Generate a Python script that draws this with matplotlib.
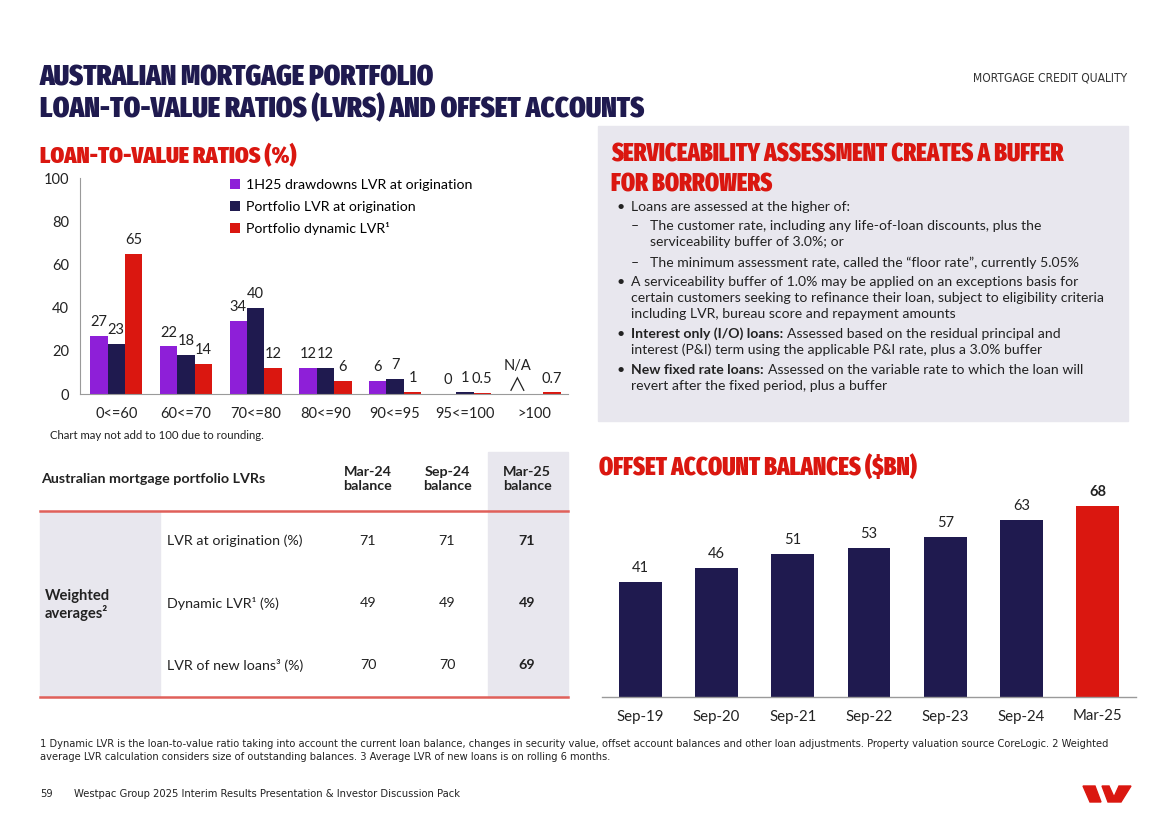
import numpy as np
import matplotlib
matplotlib.use('Agg')
import matplotlib.pyplot as plt
from matplotlib import font_manager
from matplotlib.font_manager import FontProperties
from matplotlib.patches import Rectangle, Polygon
from matplotlib.lines import Line2D

# ---- data -------------------------------------------------------------
lvr_bands = ['0<=60', '60<=70', '70<=80', '80<=90', '90<=95', '95<=100', '>100']
drawdowns_lvr = [27, 22, 34, 12, 6, 0, None]      # None = N/A
portfolio_lvr = [23, 18, 40, 12, 7, 1, None]
dynamic_lvr = [65, 14, 12, 6, 1, 0.5, 0.7]
lvr_series = ['1H25 drawdowns LVR at origination',
              'Portfolio LVR at origination',
              'Portfolio dynamic LVR¹']
lvr_yticks = [0, 20, 40, 60, 80, 100]

offset_dates = ['Sep-19', 'Sep-20', 'Sep-21', 'Sep-22', 'Sep-23', 'Sep-24', 'Mar-25']
offset_balances = [41, 46, 51, 53, 57, 63, 68]

table_cols = ['Mar-24\nbalance', 'Sep-24\nbalance', 'Mar-25\nbalance']
table_rows = ['LVR at origination (%)', 'Dynamic LVR¹ (%)', 'LVR of new loans³ (%)']
table_values = [[71, 71, 71],
                [49, 49, 49],
                [70, 70, 69]]

# ---- style ------------------------------------------------------------
W, H = 1168, 825
NAVY = '#1f1a4f'
PURPLE = '#8e1fd8'
RED = '#da1710'
GREY_BG = '#e8e7ee'
TXT = '#222222'
BODY = ['Lato', 'DejaVu Sans']
plt.rcParams['font.family'] = BODY


def find_face(patterns, fallback_weight):
    # first installed face whose file name matches one of the patterns
    files = [f.fname for f in font_manager.fontManager.ttflist]
    for p in patterns:
        for fn in files:
            base = fn.rsplit('/', 1)[-1].replace(' ', '').replace('-', '').lower()
            if p.lower() in base and 'italic' not in base:
                return FontProperties(fname=fn)
    return FontProperties(family='DejaVu Sans', weight=fallback_weight)


HEAD_B = find_face(['ExtraCondensedBlack', 'ExtraCondensedExtraBold', 'ExtraCondensedBold',
                    'CondensedBlack', 'CondensedExtraBold', 'CondensedBold',
                    'NarrowBold', 'SansCondensedBold'], 'bold')
HEAD_R = find_face(['SansCondensed.', 'SansCondensedRegular', 'CondensedRegular',
                    'NarrowRegular', 'Condensed.ttf'], 'normal')


def fx(x):
    return x / W


def fy(y):
    return 1 - y / H


def fmt(v):
    return str(int(v)) if float(v).is_integer() else str(v)


fig = plt.figure(figsize=(W / 100, H / 100), dpi=100)
renderer = fig.canvas.get_renderer()


def fit_text(x, y, s, width_px, fp, **kw):
    # place a text and scale its size so it spans width_px pixels
    t = fig.text(fx(x), fy(y), s, fontproperties=fp.copy(), **kw)
    t.set_fontsize(10)
    bb = t.get_window_extent(renderer)
    t.set_fontsize(10 * width_px / bb.width)
    return t


# ---- headings ---------------------------------------------------------
fit_text(40, 86, 'AUSTRALIAN MORTGAGE PORTFOLIO', 394, HEAD_B, color=NAVY, va='baseline')
fit_text(40, 117, 'LOAN-TO-VALUE RATIOS (LVRS) AND OFFSET ACCOUNTS', 602, HEAD_B,
         color=NAVY, va='baseline')
fit_text(1127, 78, 'MORTGAGE CREDIT QUALITY', 155, HEAD_R, color='#333333',
         ha='right', va='center')
fit_text(40, 163, 'LOAN-TO-VALUE RATIOS (%)', 256, HEAD_B, color=RED, va='baseline')

# ---- LVR bar chart ----------------------------------------------------
ax1 = fig.add_axes([fx(80), fy(394), (568 - 80) / W, (394 - 178) / H])
x = np.arange(len(lvr_bands))
bw = 0.25
colors = [PURPLE, NAVY, RED]
for k, vals in enumerate([drawdowns_lvr, portfolio_lvr, dynamic_lvr]):
    xs = [xi + (k - 1) * bw for xi, v in zip(x, vals) if v is not None]
    hs = [v for v in vals if v is not None]
    bars = ax1.bar(xs, hs, bw, color=colors[k], label=lvr_series[k])
    ax1.bar_label(bars, labels=[fmt(v) for v in hs], padding=5,
                  fontsize=10.5, color=TXT)
# N/A marker for the missing drawdowns value
for xi, v in zip(x, drawdowns_lvr):
    if v is None:
        ax1.annotate('N/A', xy=(xi - bw, 0), xytext=(0, 15), textcoords='offset points',
                     ha='center', va='bottom', fontsize=10.5, color=TXT)
        ax1.annotate('∧', xy=(xi - bw, 0), xytext=(0, -1), textcoords='offset points',
                     ha='center', va='bottom', fontsize=13.5, color=TXT,
                     family=['Noto Sans CJK SC', 'DejaVu Sans'])
ax1.set_xlim(-0.52, 6.48)
ax1.set_ylim(0, 100)
ax1.set_yticks(lvr_yticks)
ax1.set_xticks(x, lvr_bands)
ax1.tick_params(length=0, labelsize=10.5, colors=TXT)
ax1.tick_params(axis='y', pad=8)
ax1.tick_params(axis='x', pad=9)
for s in ['top', 'right']:
    ax1.spines[s].set_visible(False)
for s in ['left', 'bottom']:
    ax1.spines[s].set_color('#9a9a9a')
    ax1.spines[s].set_linewidth(0.8)
ax1.legend(loc='upper left', bbox_to_anchor=(fx(230), fy(179)),
           bbox_transform=fig.transFigure, frameon=False, fontsize=10.2,
           handlelength=0.7, handleheight=0.7, handletextpad=0.45,
           labelspacing=0.68, borderpad=0, borderaxespad=0)
fig.text(fx(50), fy(436), 'Chart may not add to 100 due to rounding.', size=8.2, color=TXT,
         va='center')

# ---- LVR table --------------------------------------------------------
TS = 10.3
fig.patches.append(Rectangle((fx(40), fy(697)), fx(160) - fx(40), (697 - 512) / H,
                             transform=fig.transFigure, color=GREY_BG, zorder=0))
fig.patches.append(Rectangle((fx(488), fy(697)), fx(568) - fx(488), (697 - 452) / H,
                             transform=fig.transFigure, color=GREY_BG, zorder=0))
for yl in [511, 697]:
    fig.lines.append(Line2D([fx(40), fx(568)], [fy(yl), fy(yl)], transform=fig.transFigure,
                            color='#e0605a', lw=1.8))
fig.text(fx(41), fy(479), 'Australian mortgage portfolio LVRs', weight='bold', size=TS,
         color=TXT, va='center')
col_x = [368, 447, 527]
for cx, c in zip(col_x, table_cols):
    fig.text(fx(cx), fy(479), c, weight='bold', size=TS, color=TXT, ha='center',
             va='center', linespacing=1.15)
row_y = [541, 603, 665]
for ry, label, vals in zip(row_y, table_rows, table_values):
    fig.text(fx(167), fy(ry), label, size=TS, color=TXT, va='center')
    for j, (cx, v) in enumerate(zip(col_x, vals)):
        fig.text(fx(cx), fy(ry), str(v), size=TS, color=TXT, ha='center', va='center',
                 weight='bold' if j == len(vals) - 1 else 'normal')
fig.text(fx(45), fy(605), 'Weighted\naverages²', weight='bold', size=TS + 0.3, color=TXT,
         va='center', linespacing=1.15)

# ---- serviceability box ----------------------------------------------
fig.patches.append(Rectangle((fx(598), fy(421)), fx(1128) - fx(598), (421 - 126) / H,
                             transform=fig.transFigure, color=GREY_BG, zorder=0))
t_serv = fit_text(611, 162, 'SERVICEABILITY ASSESSMENT CREATES A BUFFER', 451, HEAD_B,
                  color=RED, va='baseline')
fig.text(fx(611), fy(191), 'FOR BORROWERS', fontproperties=HEAD_B,
         size=t_serv.get_fontsize(), color=RED, va='baseline')

BS = 10.1
bullet_lines = [
    # (y, marker, x_text, bold, regular)
    (207, '•', 631, '', 'Loans are assessed at the higher of:'),
    (226, '–', 650, '', 'The customer rate, including any life-of-loan discounts, plus the'),
    (242, '', 650, '', 'serviceability buffer of 3.0%; or'),
    (263, '–', 650, '', 'The minimum assessment rate, called the “floor rate”, currently 5.05%'),
    (282, '•', 631, '', 'A serviceability buffer of 1.0% may be applied on an exceptions basis for'),
    (298, '', 631, '', 'certain customers seeking to refinance their loan, subject to eligibility criteria'),
    (314, '', 631, '', 'including LVR, bureau score and repayment amounts'),
    (334, '•', 631, 'Interest only (I/O) loans:', 'Assessed based on the residual principal and'),
    (350, '', 631, '', 'interest (P&I) term using the applicable P&I rate, plus a 3.0% buffer'),
    (370, '•', 631, 'New fixed rate loans:', 'Assessed on the variable rate to which the loan will'),
    (386, '', 631, '', 'revert after the fixed period, plus a buffer'),
]
for y, mark, xt, bold, reg in bullet_lines:
    if mark:
        fig.text(fx(616 if mark == '•' else 631), fy(y), mark, size=BS, color=TXT,
                 va='center')
    x0 = fx(xt)
    if bold:
        tb = fig.text(x0, fy(y), bold, size=BS, color=TXT, weight='bold', va='center')
        x0 = (tb.get_window_extent(renderer).x1 + 4) / W
    fig.text(x0, fy(y), reg, size=BS, color=TXT, va='center')

# ---- offset balances chart -------------------------------------------
fit_text(599, 476, r'OFFSET ACCOUNT BALANCES (\$BN)', 318, HEAD_B, color=RED, va='baseline')
ax2 = fig.add_axes([fx(602), fy(697), (1136 - 602) / W, (697 - 472) / H])
xo = np.arange(len(offset_dates))
ocolors = [NAVY] * (len(offset_dates) - 1) + [RED]
obars = ax2.bar(xo, offset_balances, 0.56, color=ocolors)
for i, (b, v) in enumerate(zip(obars, offset_balances)):
    ax2.annotate(str(v), xy=(b.get_x() + b.get_width() / 2, v), xytext=(0, 5),
                 textcoords='offset points', ha='center', va='bottom', fontsize=10.5,
                 color=TXT, weight='bold' if i == len(offset_balances) - 1 else 'normal')
ax2.set_xlim(-0.5, 6.5)
ax2.set_ylim(0, 80)
ax2.set_yticks([])
ax2.set_xticks(xo, offset_dates)
ax2.tick_params(length=0, labelsize=10.8, colors=TXT, pad=9)
for s in ['top', 'right', 'left']:
    ax2.spines[s].set_visible(False)
ax2.spines['bottom'].set_color('#9a9a9a')
ax2.spines['bottom'].set_linewidth(1.0)

# ---- footnotes --------------------------------------------------------
t_fn = fit_text(40, 744,
                '1 Dynamic LVR is the loan-to-value ratio taking into account the current loan '
                'balance, changes in security value, offset account balances and other loan '
                'adjustments. Property valuation source CoreLogic. 2 Weighted',
                1067, HEAD_R, color=TXT, va='center')
fig.text(fx(40), fy(757),
         'average LVR calculation considers size of outstanding balances. '
         '3 Average LVR of new loans is on rolling 6 months.',
         fontproperties=HEAD_R, size=t_fn.get_fontsize(), color=TXT, va='center')
fig.text(fx(40), fy(794), '59', fontproperties=HEAD_R, size=t_fn.get_fontsize(),
         color=TXT, va='center')
fit_text(74, 794, 'Westpac Group 2025 Interim Results Presentation & Investor Discussion Pack',
         387, HEAD_R, color=TXT, va='center')

# Westpac logo
logo_parts = [
    [(1083, 786), (1095, 786), (1101, 802), (1090, 802)],
    [(1102, 786), (1109, 786), (1114, 797), (1119, 786), (1131, 786), (1121, 802), (1108, 802)],
]
for part in logo_parts:
    fig.patches.append(Polygon([(fx(px), fy(py)) for px, py in part], closed=True,
                               transform=fig.transFigure, color=RED))

fig.savefig('out.png', dpi=100)
